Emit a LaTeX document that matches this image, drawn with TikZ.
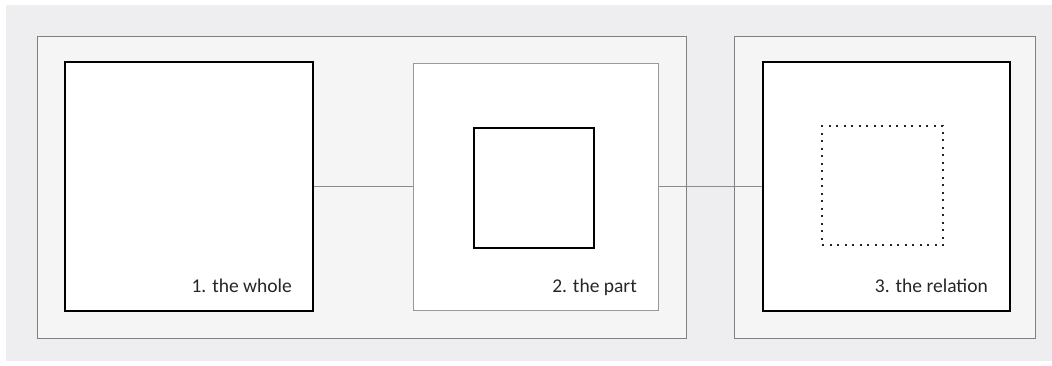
\documentclass[tikz,border=0pt]{standalone}
\usepackage{fontspec}
\setmainfont{Carlito}
\begin{document}
\begin{tikzpicture}[x=1pt,y=-1pt,
  panel/.style={draw=black!50,fill=black!4,line width=1pt},
  thickbox/.style={draw=black,fill=white,line width=2pt},
  thinbox/.style={draw=black!40,fill=white,line width=1pt},
  innerbox/.style={draw=black,line width=1.8pt},
  dotbox/.style={draw=black!85,line width=2pt,dash pattern=on 2pt off 5.5pt},
  conn/.style={draw=black!45,line width=1pt},
  lbl/.style={font=\fontsize{19.5}{22}\selectfont,text=black!85,anchor=base east,inner sep=0pt}]
\useasboundingbox (0,0) rectangle (1052,365);
\fill[white] (0,0) rectangle (1052,365);
\fill[fill={rgb,255:red,238;green,238;blue,240}] (6,5) rectangle (1052,361);
\draw[panel] (37,36) rectangle (686,338);
\draw[panel] (734,36) rectangle (1035,338);
\node[thickbox,minimum width=248,minimum height=249,inner sep=0pt] (whole) at (189,186.5) {};
\node[thinbox,minimum width=245,minimum height=247,inner sep=0pt] (part) at (536,186.5) {};
\node[innerbox,minimum width=120,minimum height=120,inner sep=0pt] (sub) at (534,188) {};
\node[thickbox,minimum width=247,minimum height=249,inner sep=0pt] (rel) at (886,186.5) {};
\node[dotbox,minimum width=121,minimum height=119,inner sep=0pt] (dot) at (882.5,185.5) {};
\node[lbl] (l1) at (292,292) {1. the whole};
\node[lbl] (l2) at (637,292) {2. the part};
\node[lbl] (l3) at (988,292) {3. the relation};
\draw[conn] (whole.east) -- (part.west);
\draw[conn] (part.east) -- (rel.west);
\end{tikzpicture}
\end{document}
